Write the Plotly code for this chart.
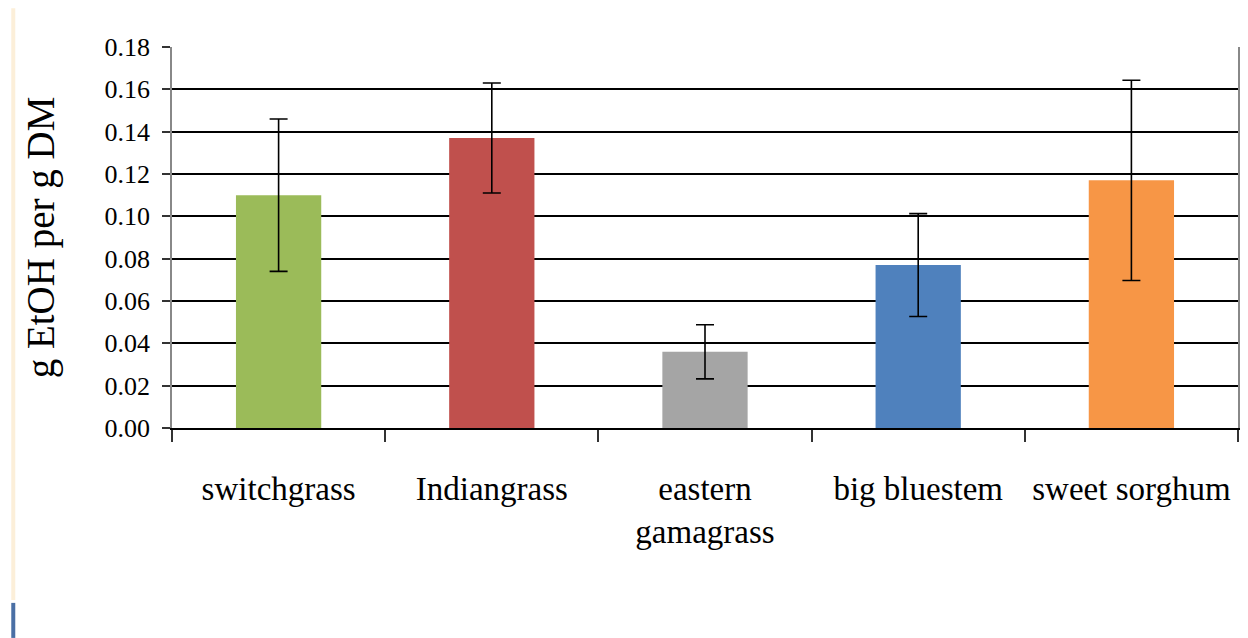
import plotly.graph_objects as go

categories = ["switchgrass", "Indiangrass", "eastern<br>gamagrass", "big bluestem", "sweet sorghum"]
values = [0.110, 0.137, 0.036, 0.077, 0.117]
errors = [0.036, 0.026, 0.0128, 0.0243, 0.0473]
colors = ["#9BBB59", "#C0504D", "#A5A5A5", "#4F81BD", "#F79646"]
y_ticks = [0.00, 0.02, 0.04, 0.06, 0.08, 0.10, 0.12, 0.14, 0.16, 0.18]

fig = go.Figure()
fig.add_trace(go.Bar(
    x=categories, y=values,
    marker=dict(color=colors, line=dict(width=0)),
    error_y=dict(type="data", array=errors, visible=True,
                 color="#000000", thickness=1.6, width=9),
    showlegend=False,
))

serif = "Liberation Serif, Times New Roman, serif"

fig.update_layout(
    width=1240, height=630,
    margin=dict(l=164, r=8, t=39, b=210),
    paper_bgcolor="white", plot_bgcolor="white",
    bargap=0.6,
    font=dict(family=serif, color="black"),
)
fig.update_xaxes(
    showgrid=False,
    tickson="boundaries", ticks="outside", ticklen=12, tickwidth=1.5, tickcolor="#333333",
    showline=True, linecolor="#000000", linewidth=1.5,
    tickfont=dict(family=serif, size=33, color="black"),
    ticklabelstandoff=31,
)
fig.update_yaxes(
    range=[0, 0.18], tickvals=y_ticks, tickformat=".2f",
    showgrid=True, gridcolor="#000000", gridwidth=1.5,
    zeroline=False,
    ticks="outside", ticklen=8, tickwidth=1.5, tickcolor="#333333",
    showline=True, linecolor="#888888", linewidth=1.5, mirror=True,
    tickfont=dict(family=serif, size=26, color="black"),
    ticklabelstandoff=7,
    title=dict(text="g EtOH per g DM", font=dict(family=serif, size=39, color="black"), standoff=38),
)

# decorative slide edge on the left
fig.add_shape(type="line", xref="paper", yref="paper", x0=-0.1489, x1=-0.1489, y0=-0.4514, y1=1.102,
              line=dict(color="#FCEFD9", width=4))
fig.add_shape(type="line", xref="paper", yref="paper", x0=-0.1489, x1=-0.1489, y0=-0.551, y1=-0.459,
              line=dict(color="#4A6FA5", width=4))

fig.write_html("out.html")
